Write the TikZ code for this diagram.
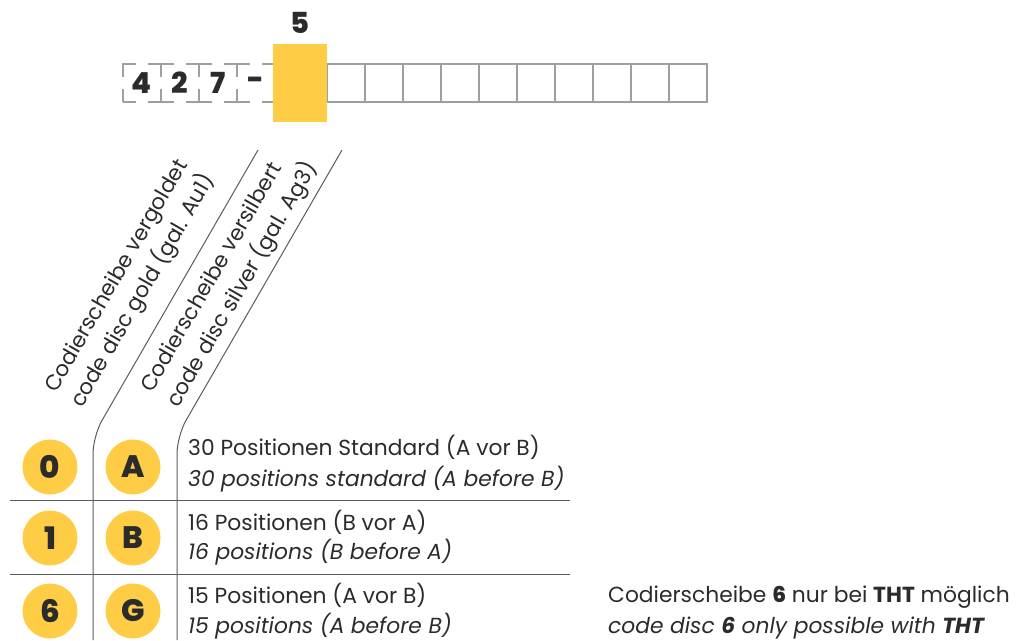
\documentclass[tikz,border=0pt]{standalone}
\usepackage{fontspec}
\setmainfont{Poppins}
\newfontfamily\heavy{Poppins}[UprightFont=* ExtraBold]
\definecolor{ink}{HTML}{2B2B2B}
\definecolor{gold}{HTML}{FFCD45}
\definecolor{boxgray}{HTML}{9AA0A6}
\definecolor{rulegray}{HTML}{5A5A5A}
\tikzset{
  cell/.style={draw=boxgray, line width=1.6pt, minimum width=38pt, minimum height=38pt, inner sep=0pt, outer sep=0pt},
  dashcell/.style={cell, dash pattern=on 26pt off 12pt, dash phase=13pt},
  celltext/.style={font=\fontsize{29}{29}\selectfont\heavy, text=ink},
  disc/.style={circle, fill=gold, minimum size=55pt, inner sep=0pt, font=\fontsize{31}{31}\selectfont\heavy, text=ink},
  rowtext/.style={anchor=base west, inner sep=0pt, font=\fontsize{21.8}{24}\selectfont, text=ink},
  rowital/.style={rowtext, font=\fontsize{21.8}{24}\selectfont\itshape},
  slanttext/.style={anchor=base west, inner sep=0pt, rotate=60, font=\fontsize{21.5}{24}\selectfont, text=ink},
  rule/.style={draw=rulegray, line width=1pt},
}
\begin{document}
\begin{tikzpicture}[x=1pt,y=-1pt]
\useasboundingbox (0,0) rectangle (1020,640);

% prefix cells 4 2 7 -
\foreach \t [count=\i] in {4,2,7,-} {
  \node[dashcell] (p\i) at ({123+38*\i-19},83) {};
  \node[celltext] at (p\i) {\t};
}
% open code cells
\foreach \i in {1,...,10} {
  \node[cell] (c\i) at ({327+38*\i-19},83) {};
}
% highlighted position
\node[fill=gold, minimum width=54pt, minimum height=78pt, inner sep=0pt] (hl) at (300,83) {};
\node[font=\fontsize{29}{29}\selectfont\heavy, text=ink] (five) at (300,23) {5};

% slanted column separators
\coordinate (s1top) at (258,150);
\coordinate (s2top) at (342,150);
\draw[rule, rounded corners=18pt] (s1top) -- (93,436) -- (93,640);
\draw[rule, rounded corners=18pt] (s2top) -- (177,436) -- (177,640);

% slanted column headings
\node[slanttext] (h1a) at (56,394) {Codierscheibe vergoldet};
\node[slanttext] (h1b) at (82,409) {code disc gold (gal. Au1)};
\node[slanttext] (h2a) at (152,394) {Codierscheibe versilbert};
\node[slanttext] (h2b) at (178,409) {code disc silver (gal. Ag3)};

% row separators
\draw[rule] (10,500) -- (570,500);
\draw[rule] (10,574) -- (570,574);

% rows
\node[disc] (g0) at (50,467) {0};
\node[disc] (sA) at (133,467) {A};
\node[rowtext] (r1a) at (188,455) {30 Positionen Standard (A vor B)};
\node[rowital] (r1b) at (188,486) {30 positions standard (A before B)};

\node[disc] (g1) at (50,538) {1};
\node[disc] (sB) at (133,538) {B};
\node[rowtext] (r2a) at (188,530) {16 Positionen (B vor A)};
\node[rowital] (r2b) at (188,559) {16 positions (B before A)};

\node[disc] (g6) at (50,611) {6};
\node[disc] (sG) at (133,611) {G};
\node[rowtext] (r3a) at (188,603) {15 Positionen (A vor B)};
\node[rowital] (r3b) at (188,633) {15 positions (A before B)};

% note
\node[rowtext] (n1) at (608,602) {Codierscheibe {\heavy 6} nur bei {\bfseries THT} möglich};
\node[rowital] (n2) at (608,633) {code disc \textbf{6} only possible with \textbf{THT}};
\end{tikzpicture}
\end{document}
